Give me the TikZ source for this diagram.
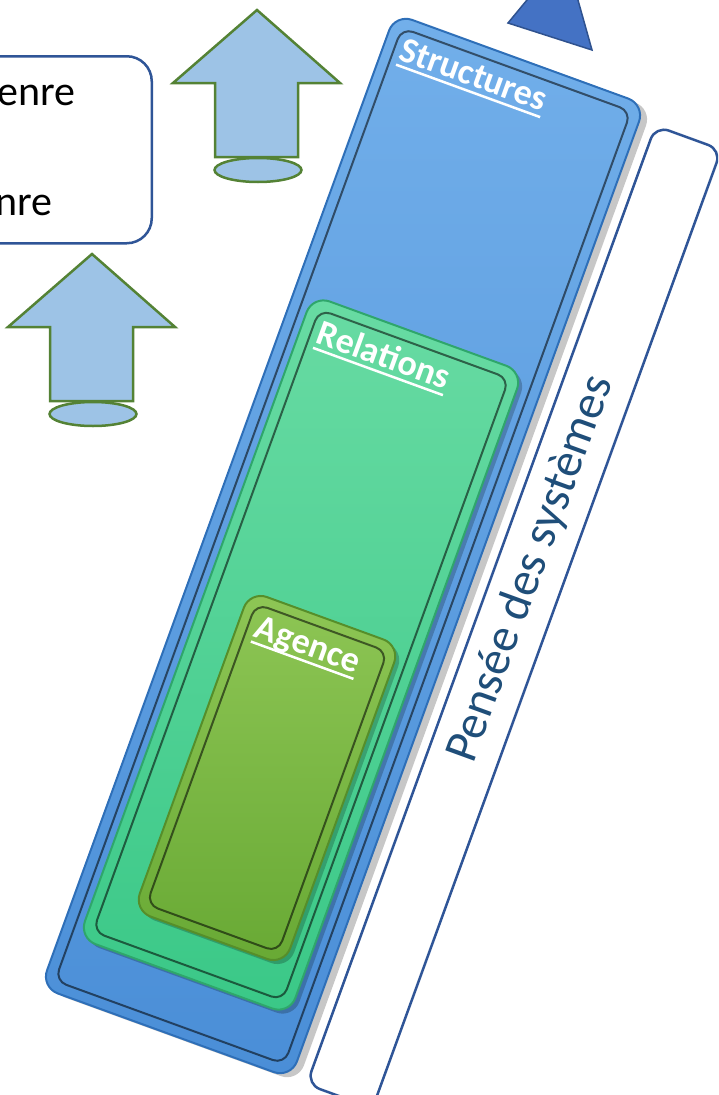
\documentclass[tikz,border=0pt]{standalone}
\usepackage{fontspec}
\setmainfont{Carlito}
\usetikzlibrary{shapes.geometric}

\definecolor{strucTop}{HTML}{72AFEA}
\definecolor{strucBot}{HTML}{4A8ED7}
\definecolor{strucLine}{HTML}{2E6FB8}
\definecolor{relTop}{HTML}{68DBA3}
\definecolor{relBot}{HTML}{3AC887}
\definecolor{relLine}{HTML}{2FA66B}
\definecolor{agTop}{HTML}{8EC655}
\definecolor{agBot}{HTML}{68A934}
\definecolor{agLine}{HTML}{568E2A}
\definecolor{arrowFill}{HTML}{9DC3E6}
\definecolor{arrowLine}{HTML}{548235}
\definecolor{triFill}{HTML}{4472C4}
\definecolor{triLine}{HTML}{2F528F}
\definecolor{frameBlue}{HTML}{2F5597}
\definecolor{textBlue}{HTML}{1F4E79}

% white title with a thick rule under it
\newcommand\ulabel[1]{\setbox0\hbox{#1}\rlap{\rule[-7pt]{\wd0}{2.5pt}}\box0}

\tikzset{
	layerBox/.style={rectangle, rotate=-20, rounded corners=18pt, inner sep=0pt, outer sep=0pt, line width=2pt},
	layerShadow/.style={rectangle, rotate=-20, rounded corners=18pt, inner sep=0pt, fill=black, opacity=0.22},
	bevel/.style={rectangle, rotate=-20, rounded corners=12pt, inner sep=0pt, draw=black, draw opacity=0.55, line width=2pt},
	layerLabel/.style={rotate=-20, anchor=north west, inner sep=18pt, text=white, font=\fontsize{36}{40}\selectfont\bfseries},
	upArrow/.style={fill=arrowFill, draw=arrowLine, line width=2.5pt, line join=miter},
}

\begin{document}
\begin{tikzpicture}[x=1pt, y=-1pt]
	\clip (0,0) rectangle (718,1095);

	% Place nodes
	\node [rectangle, draw=frameBlue, line width=2.5pt, rounded corners=25pt, minimum width=240pt, minimum height=187pt, anchor=north east] (genreBox) at (153,55) {};
	\node [anchor=base east, inner sep=0pt, font=\fontsize{42}{46}\selectfont] (genre1) at (76,105) {enre};
	\node [anchor=base east, inner sep=0pt, font=\fontsize{42}{46}\selectfont] (genre2) at (53,215) {nre};

	\foreach \x/\y in {257/10, 92/254} {
		\draw [upArrow,shift={(\x,\y)}] (0,0) -- (83,73) -- (41,73) -- (41,147) -- (-42,147) -- (-42,73) -- (-84,73) -- cycle;
		\node [ellipse, upArrow, minimum width=87pt, minimum height=24pt, inner sep=0pt] at (\x+1,\y+160) {};
	}

	\draw [fill=triFill, draw=triLine, line width=1.5pt] (508,23) -- (565,-46) -- (592,50) -- cycle;

	% outer frame with the label
	\node [rectangle, rotate=-20, rounded corners=14pt, draw=frameBlue, fill=white, line width=2.5pt, minimum width=70pt, minimum height=1020pt, inner sep=0pt] (frame) at (514,617) {};
	\node [rotate=70, text=textBlue, font=\fontsize{48}{52}\selectfont] (pensee) at (531,569) {Pensée des systèmes};

	% Structures
	\node [layerShadow, minimum width=266pt, minimum height=1036pt] at (350,550) {};
	\node [layerBox, minimum width=266pt, minimum height=1036pt, top color=strucTop, bottom color=strucBot, draw=strucLine] (struct) at (343,546) {};
	\node [bevel, minimum width=244pt, minimum height=1014pt] at (struct.center) {};
	\node [layerLabel] (structLabel) at (struct.north west) {\ulabel{Structures}};

	% Relations
	\node [layerShadow, minimum width=224pt, minimum height=684pt] at (305,659) {};
	\node [layerBox, minimum width=224pt, minimum height=684pt, top color=relTop, bottom color=relBot, draw=relLine] (rel) at (301,655) {};
	\node [bevel, minimum width=202pt, minimum height=662pt] at (rel.center) {};
	\node [layerLabel] (relLabel) at (rel.north west) {\ulabel{Relations}};

	% Agence
	\node [layerShadow, minimum width=160pt, minimum height=340pt] at (271,782) {};
	\node [layerBox, minimum width=160pt, minimum height=340pt, top color=agTop, bottom color=agBot, draw=agLine] (agence) at (267,778) {};
	\node [bevel, minimum width=140pt, minimum height=320pt] at (agence.center) {};
	\node [layerLabel] (agenceLabel) at (agence.north west) {\ulabel{Agence}};
\end{tikzpicture}
\end{document}
